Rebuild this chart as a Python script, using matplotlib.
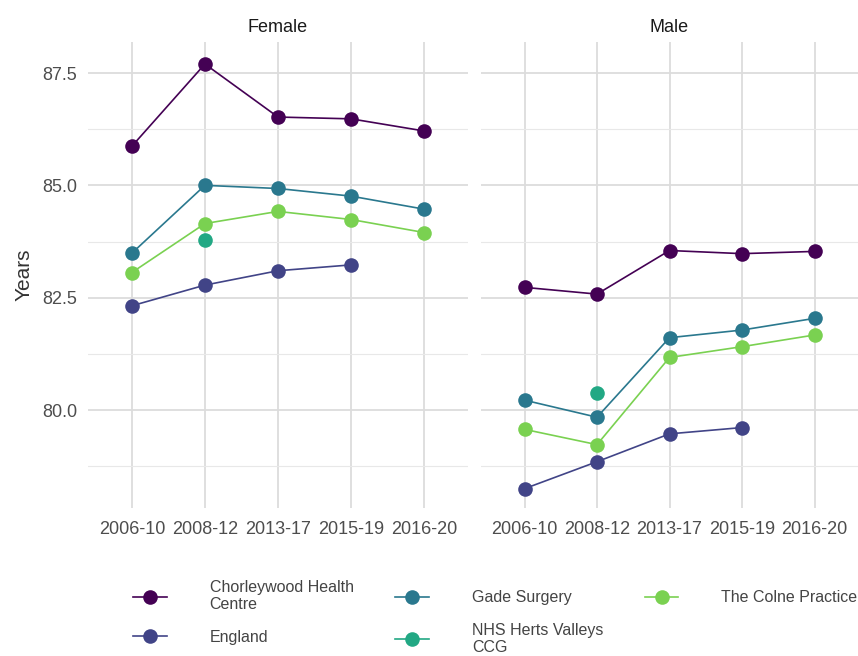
import numpy as np
import matplotlib.pyplot as plt
from matplotlib.lines import Line2D

plt.rcParams['font.family'] = ['Liberation Sans', 'DejaVu Sans']

periods = ['2006-10', '2008-12', '2013-17', '2015-19', '2016-20']
groups = ['Chorleywood Health\nCentre', 'England', 'Gade Surgery',
          'NHS Herts Valleys\nCCG', 'The Colne Practice']
colors = ['#440154', '#414487', '#2A788E', '#22A884', '#7AD151']

nan = np.nan
# life expectancy, years (one row per group, in the order of `groups`)
female = [
    [85.87, 87.70, 86.52, 86.48, 86.21],
    [82.32, 82.78, 83.10, 83.23, nan],
    [83.49, 85.00, 84.93, 84.76, 84.47],
    [nan, 83.78, nan, nan, nan],
    [83.06, 84.15, 84.42, 84.24, 83.95],
]
male = [
    [82.73, 82.58, 83.55, 83.48, 83.53],
    [78.25, 78.85, 79.47, 79.61, nan],
    [80.22, 79.84, 81.61, 81.78, 82.04],
    [nan, 80.37, nan, nan, nan],
    [79.57, 79.23, 81.17, 81.41, 81.67],
]

W, H = 858, 656
fig = plt.figure(figsize=(W / 100, H / 100), dpi=100)
bottom = 1 - 508 / H
height = 466 / H
ax1 = fig.add_axes([88 / W, bottom, 380 / W, height])
ax2 = fig.add_axes([481 / W, bottom, 377 / W, height], sharey=ax1)

x = np.arange(len(periods))
for ax, data, title in [(ax1, female, 'Female'), (ax2, male, 'Male')]:
    for vals, col in zip(data, colors):
        v = np.array(vals, dtype=float)
        ok = ~np.isnan(v)
        ax.plot(x[ok], v[ok], color=col, lw=1.2, zorder=3)
    for vals, col in zip(data, colors):
        v = np.array(vals, dtype=float)
        ax.plot(x, v, 'o', color=col, ms=10.5, mec='none', zorder=4)

    ax.set_xlim(-0.6, len(periods) - 0.4)
    ax.set_xticks(x)
    ax.set_xticklabels(periods)
    ax.set_yticks([80, 82.5, 85, 87.5])
    ax.set_yticks([78.75, 81.25, 83.75, 86.25], minor=True)
    ax.grid(True, which='major', color='#DCDCDC', lw=1.3)
    ax.grid(True, which='minor', axis='y', color='#E8E8E8', lw=0.8)
    ax.set_axisbelow(True)
    for s in ax.spines.values():
        s.set_visible(False)
    ax.tick_params(which='both', length=0, labelsize=13, labelcolor='#4D4D4D')
    ax.tick_params(axis='x', pad=9)
    ax.tick_params(axis='y', pad=8)
    ax.set_title(title, fontsize=13, color='#1A1A1A', pad=7)

ax1.set_ylim(77.82, 88.19)
ax1.yaxis.set_major_formatter(plt.FuncFormatter(lambda v, p: f'{v:.1f}'))
ax1.set_ylabel('Years', fontsize=15, color='#333333', labelpad=6)
ax2.tick_params(axis='y', labelleft=False)

handles = [Line2D([], [], color=c, lw=1.2, marker='o', ms=10.5, mec='none')
           for c in colors]
fig.legend(handles, groups, loc='upper left', bbox_to_anchor=(133 / W, 1 - 580 / H),
           ncol=3, frameon=False, fontsize=11.5, labelcolor='#444444',
           handlelength=2.1, handletextpad=2.7, columnspacing=2.6,
           labelspacing=1.1, borderpad=0, borderaxespad=0)

fig.savefig('out.png', dpi=100)
